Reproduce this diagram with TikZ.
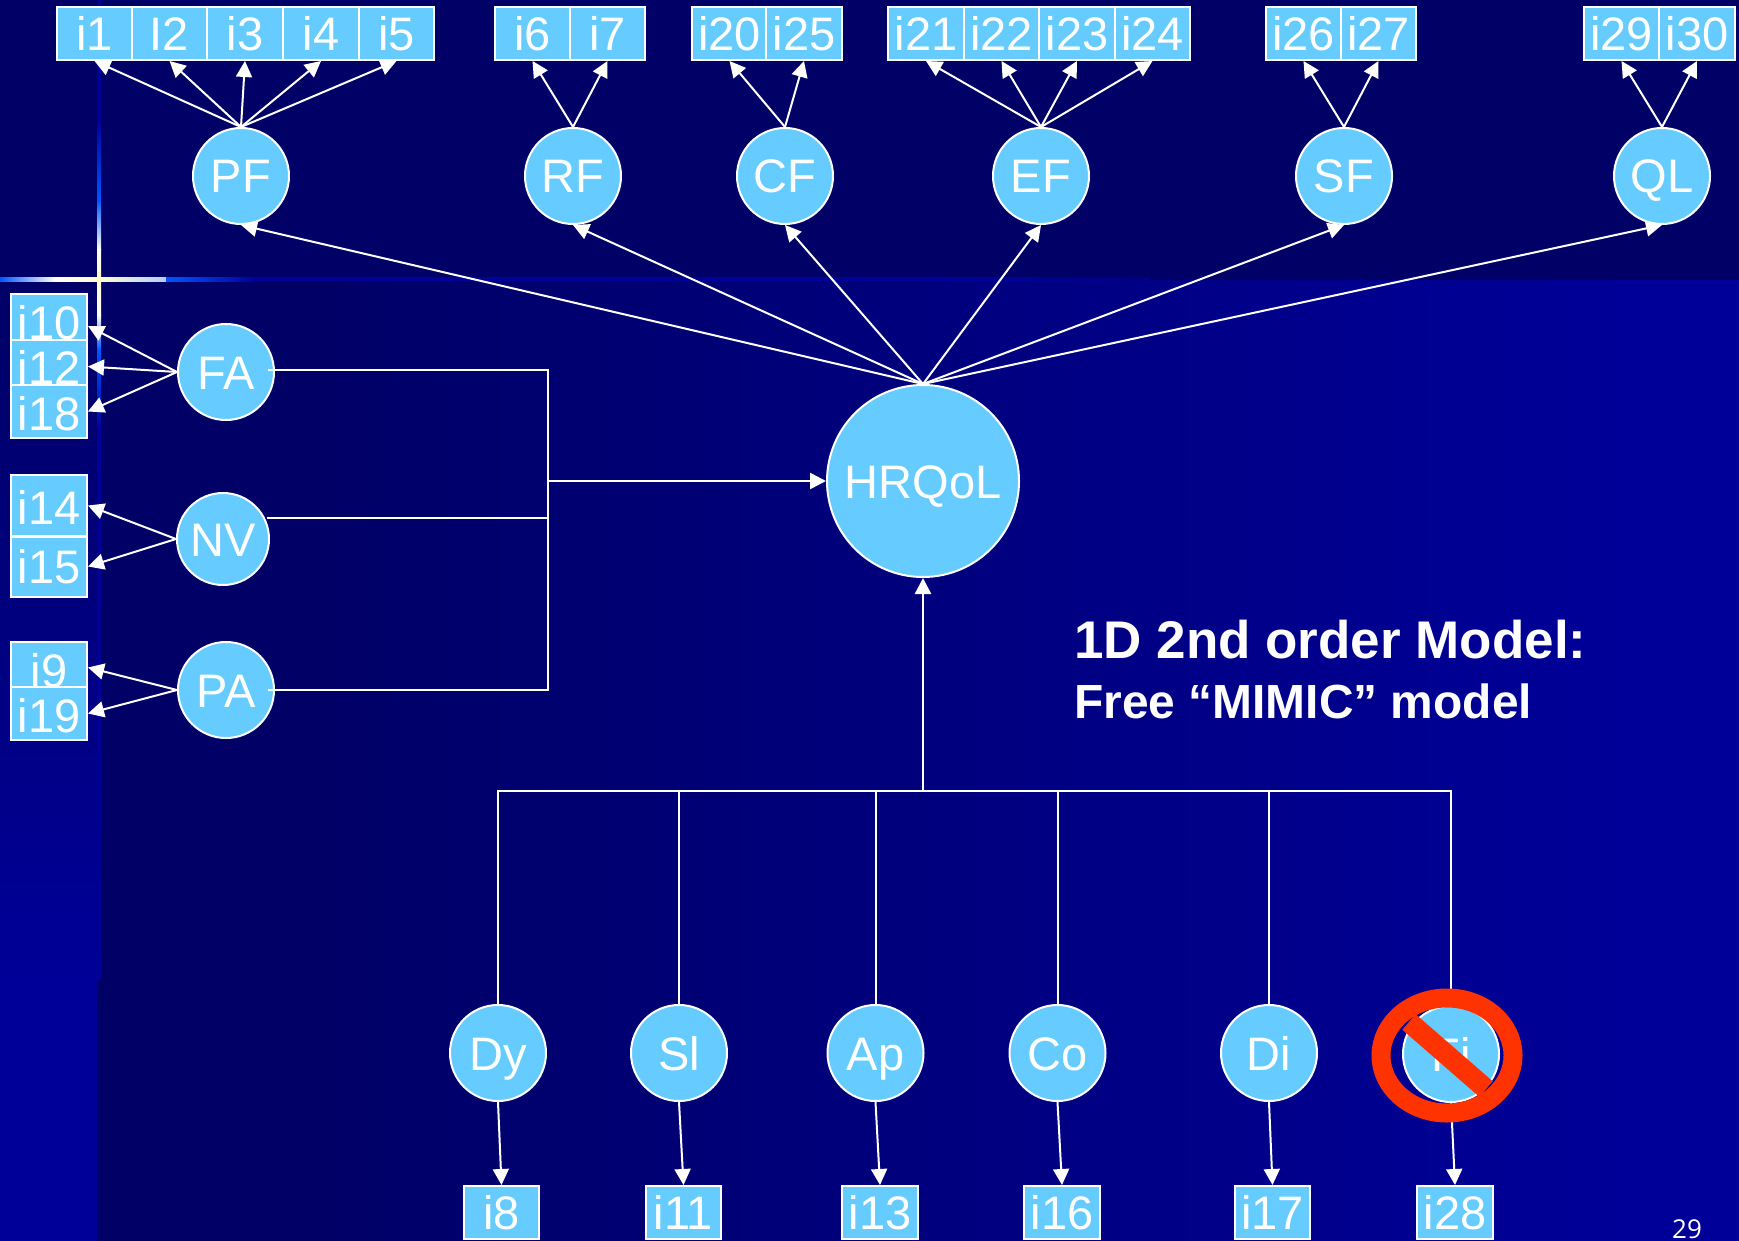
\documentclass[tikz,border=0pt]{standalone}
\usepackage{fontspec}
\setmainfont{Liberation Sans}
\usetikzlibrary{arrows.meta,shapes.geometric}
\definecolor{navyA}{HTML}{000066}
\definecolor{navyB}{HTML}{000099}
\definecolor{skyfill}{HTML}{66CCFF}
\definecolor{glowblue}{HTML}{0055FF}
\definecolor{glowcream}{HTML}{FFFFCC}
\definecolor{banred}{HTML}{FF3300}
\tikzset{
  itembox/.style={rectangle,draw=white,fill=skyfill,line width=2pt,inner sep=0pt,text=white,text height=34pt,text depth=0pt,font=\fontsize{47}{52}\selectfont},
  latent/.style={circle,draw=white,fill=skyfill,line width=2pt,inner sep=0pt,minimum size=96pt,text=white,text height=34pt,text depth=0pt,font=\fontsize{47}{52}\selectfont},
  loadarrow/.style={draw=white,line width=2pt,-{Triangle[length=16pt,width=16pt]}},
  mainarrow/.style={draw=white,line width=2.5pt,-{Triangle[length=16pt,width=16pt]}},
  wire/.style={draw=white,line width=2pt},
  bx/.style={minimum width=75.5pt,minimum height=53pt},
  headline/.style={text=white,anchor=base west,inner sep=0pt,font=\bfseries}
}
\begin{document}
\begin{tikzpicture}[x=1pt,y=-1pt]
\useasboundingbox (0,0) rectangle (1739,1241);
% background
\fill[navyA] (0,0) rectangle (1739,280);
\fill[navyA] (97,280) rectangle (301,1241);
\shade[left color=navyA,right color=navyB] (300,280) rectangle (1650,1241);
\fill[navyB] (1649,280) rectangle (1739,1241);
\shade[top color=navyA,bottom color=navyB] (0,280) rectangle (97,1000);
\fill[navyB] (0,999) rectangle (97,1241);
% glow cross
\fill[navyB] (97,0) rectangle (101,120);
\shade[top color=navyB,bottom color=glowblue] (97,120) rectangle (101,200);
\shade[top color=glowblue,bottom color=white] (97,200) rectangle (101,250);
\shade[top color=white,bottom color=glowcream] (97,250) rectangle (101,278);
\shade[top color=glowcream,bottom color=white] (97,278) rectangle (101,315);
\shade[top color=white,bottom color=glowblue] (97,315) rectangle (101,350);
\shade[top color=glowblue,bottom color=navyB] (97,350) rectangle (101,430);
\fill[navyB] (97,430) rectangle (101,980);
\shade[left color=glowblue,right color=white] (0,277) rectangle (55,281);
\shade[left color=white,right color=glowcream] (55,277) rectangle (99,281);
\shade[left color=glowcream,right color=white!70!glowblue] (99,277) rectangle (166,281);
\shade[left color=glowblue,right color=navyB] (166,277) rectangle (255,281);
\fill[navyB] (255,277) rectangle (950,281);
\shade[left color=navyB,right color=navyA!40!navyB] (950,277) rectangle (1150,281);
% top item boxes
\node[itembox,bx] (i1) at (94.5,33.5) {i1};
\node[itembox,bx] (i2) at (169.5,33.5) {I2};
\node[itembox,bx] (i3) at (245,33.5) {i3};
\node[itembox,bx] (i4) at (321,33.5) {i4};
\node[itembox,bx] (i5) at (396.5,33.5) {i5};
\node[itembox,bx] (i6) at (532.5,33.5) {i6};
\node[itembox,bx] (i7) at (607.5,33.5) {i7};
\node[itembox,bx] (i20) at (729.5,33.5) {i20};
\node[itembox,bx] (i25) at (804,33.5) {i25};
\node[itembox,bx] (i21) at (926,33.5) {i21};
\node[itembox,bx] (i22) at (1001.5,33.5) {i22};
\node[itembox,bx] (i23) at (1077,33.5) {i23};
\node[itembox,bx] (i24) at (1152.5,33.5) {i24};
\node[itembox,bx] (i26) at (1303.5,33.5) {i26};
\node[itembox,bx] (i27) at (1378.5,33.5) {i27};
\node[itembox,bx] (i29) at (1621.5,33.5) {i29};
\node[itembox,bx] (i30) at (1697,33.5) {i30};
% left item boxes
\node[itembox,minimum width=76pt,minimum height=46pt,text height=44pt] (i10) at (49,317) {i10};
\node[itembox,minimum width=76pt,minimum height=45pt,text height=43pt] (i12) at (49,362.5) {i12};
\node[itembox,minimum width=76pt,minimum height=53pt,text height=38pt] (i18) at (49,411.5) {i18};
\node[itembox,minimum width=76pt,minimum height=61pt,text height=37pt] (i14) at (49,505.5) {i14};
\node[itembox,minimum width=76pt,minimum height=60pt] (i15) at (49,566.5) {i15};
\node[itembox,minimum width=76pt,minimum height=45pt,text height=45pt] (i9) at (49,664.5) {i9};
\node[itembox,minimum width=76pt,minimum height=53pt,text height=37pt] (i19) at (49,713.5) {i19};
% bottom item boxes
\node[itembox,bx] (i8) at (501.5,1212.5) {i8};
\node[itembox,bx] (i11) at (683.5,1212.5) {i11};
\node[itembox,bx] (i13) at (880,1212.5) {i13};
\node[itembox,bx] (i16) at (1062,1212.5) {i16};
\node[itembox,bx] (i17) at (1272.5,1212.5) {i17};
\node[itembox,bx] (i28) at (1455,1212.5) {i28};
% latent circles
\node[latent] (PF) at (241,176) {PF};
\node[latent] (RF) at (573,176) {RF};
\node[latent] (CF) at (785,176) {CF};
\node[latent] (EF) at (1041,176) {EF};
\node[latent] (SF) at (1344,176) {SF};
\node[latent] (QL) at (1662,176) {QL};
\node[latent] (FA) at (226,372) {FA};
\node[latent,minimum size=92pt] (NV) at (223,539) {NV};
\node[latent] (PA) at (226,690) {PA};
\node[latent,minimum size=192pt] (HRQoL) at (923,481) {HRQoL};
\node[latent] (Dy) at (498,1053) {Dy};
\node[latent] (Sl) at (679,1053) {Sl};
\node[latent] (Ap) at (875.5,1053) {Ap};
\node[latent] (Co) at (1057.5,1053) {Co};
\node[latent] (Di) at (1269,1053) {Di};
\node[latent] (Fi) at (1451,1054) {Fi};
% indicator arrows
\foreach \b in {i1,i2,i3,i4,i5} \draw[loadarrow] (PF.north) -- (\b.south);
\foreach \b in {i6,i7} \draw[loadarrow] (RF.north) -- (\b.south);
\foreach \b in {i20,i25} \draw[loadarrow] (CF.north) -- (\b.south);
\foreach \b in {i21,i22,i23,i24} \draw[loadarrow] (EF.north) -- (\b.south);
\foreach \b in {i26,i27} \draw[loadarrow] (SF.north) -- (\b.south);
\foreach \b in {i29,i30} \draw[loadarrow] (QL.north) -- (\b.south);
\draw[loadarrow] (FA.west) -- ([yshift=-9pt]i10.east);
\draw[loadarrow] (FA.west) -- ([yshift=-4pt]i12.east);
\draw[loadarrow] (FA.west) -- (i18.east);
\draw[loadarrow] (NV.west) -- (i14.east);
\draw[loadarrow] (NV.west) -- (i15.east);
\draw[loadarrow] (PA.west) -- ([yshift=-3pt]i9.east);
\draw[loadarrow] (PA.west) -- (i19.east);
\foreach \a/\b in {Dy/i8,Sl/i11,Ap/i13,Co/i16,Di/i17,Fi/i28} \draw[loadarrow] (\a.south) -- (\b.north);
% second-order arrows
\foreach \c in {PF,RF,CF,EF,SF,QL} \draw[loadarrow] (HRQoL.north) -- (\c.south);
% bracket on the left
\coordinate (FAout) at (268,370);
\coordinate (NVout) at (267,518);
\coordinate (PAout) at (268,690);
\coordinate (brTop) at (548,370);
\coordinate (brNV) at (548,518);
\coordinate (brMid) at (548,481);
\coordinate (brBot) at (548,690);
\draw[wire] (FAout) -- (brTop) -- (brBot) -- (PAout);
\draw[wire] (NVout) -- (brNV);
\draw[mainarrow] (brMid) -- (HRQoL.west);
% bracket at the bottom
\coordinate (busMid) at (923,791);
\draw[mainarrow] (busMid) -- (HRQoL.south);
\draw[wire] (Dy.north) |- (Fi.north |- busMid) -- (Fi.north);
\foreach \c in {Sl,Ap,Co,Di} \draw[wire] (\c.north) -- (\c.north |- busMid);
% prohibition sign
\node[ellipse,draw=banred,line width=19pt,minimum width=132pt,minimum height=115pt,inner sep=0pt,outer sep=0pt] (ban) at (1447,1055.5) {};
\coordinate (banA) at (1409,1022);
\coordinate (banB) at (1486,1089);
\draw[banred,line width=20.5pt] (banA) -- (banB);
% text
\node[headline,font=\bfseries\fontsize{53}{56}\selectfont] (title1) at (1074,658) {1D 2nd order Model:};
\node[headline,font=\bfseries\fontsize{47.9}{52}\selectfont] (title2) at (1074,718) {Free “MIMIC” model};
\node[text=white,anchor=base,inner sep=0pt,font=\fontspec{Open Sans}\fontsize{26}{30}\selectfont] (pageno) at (1687,1238) {29};
\end{tikzpicture}
\end{document}
